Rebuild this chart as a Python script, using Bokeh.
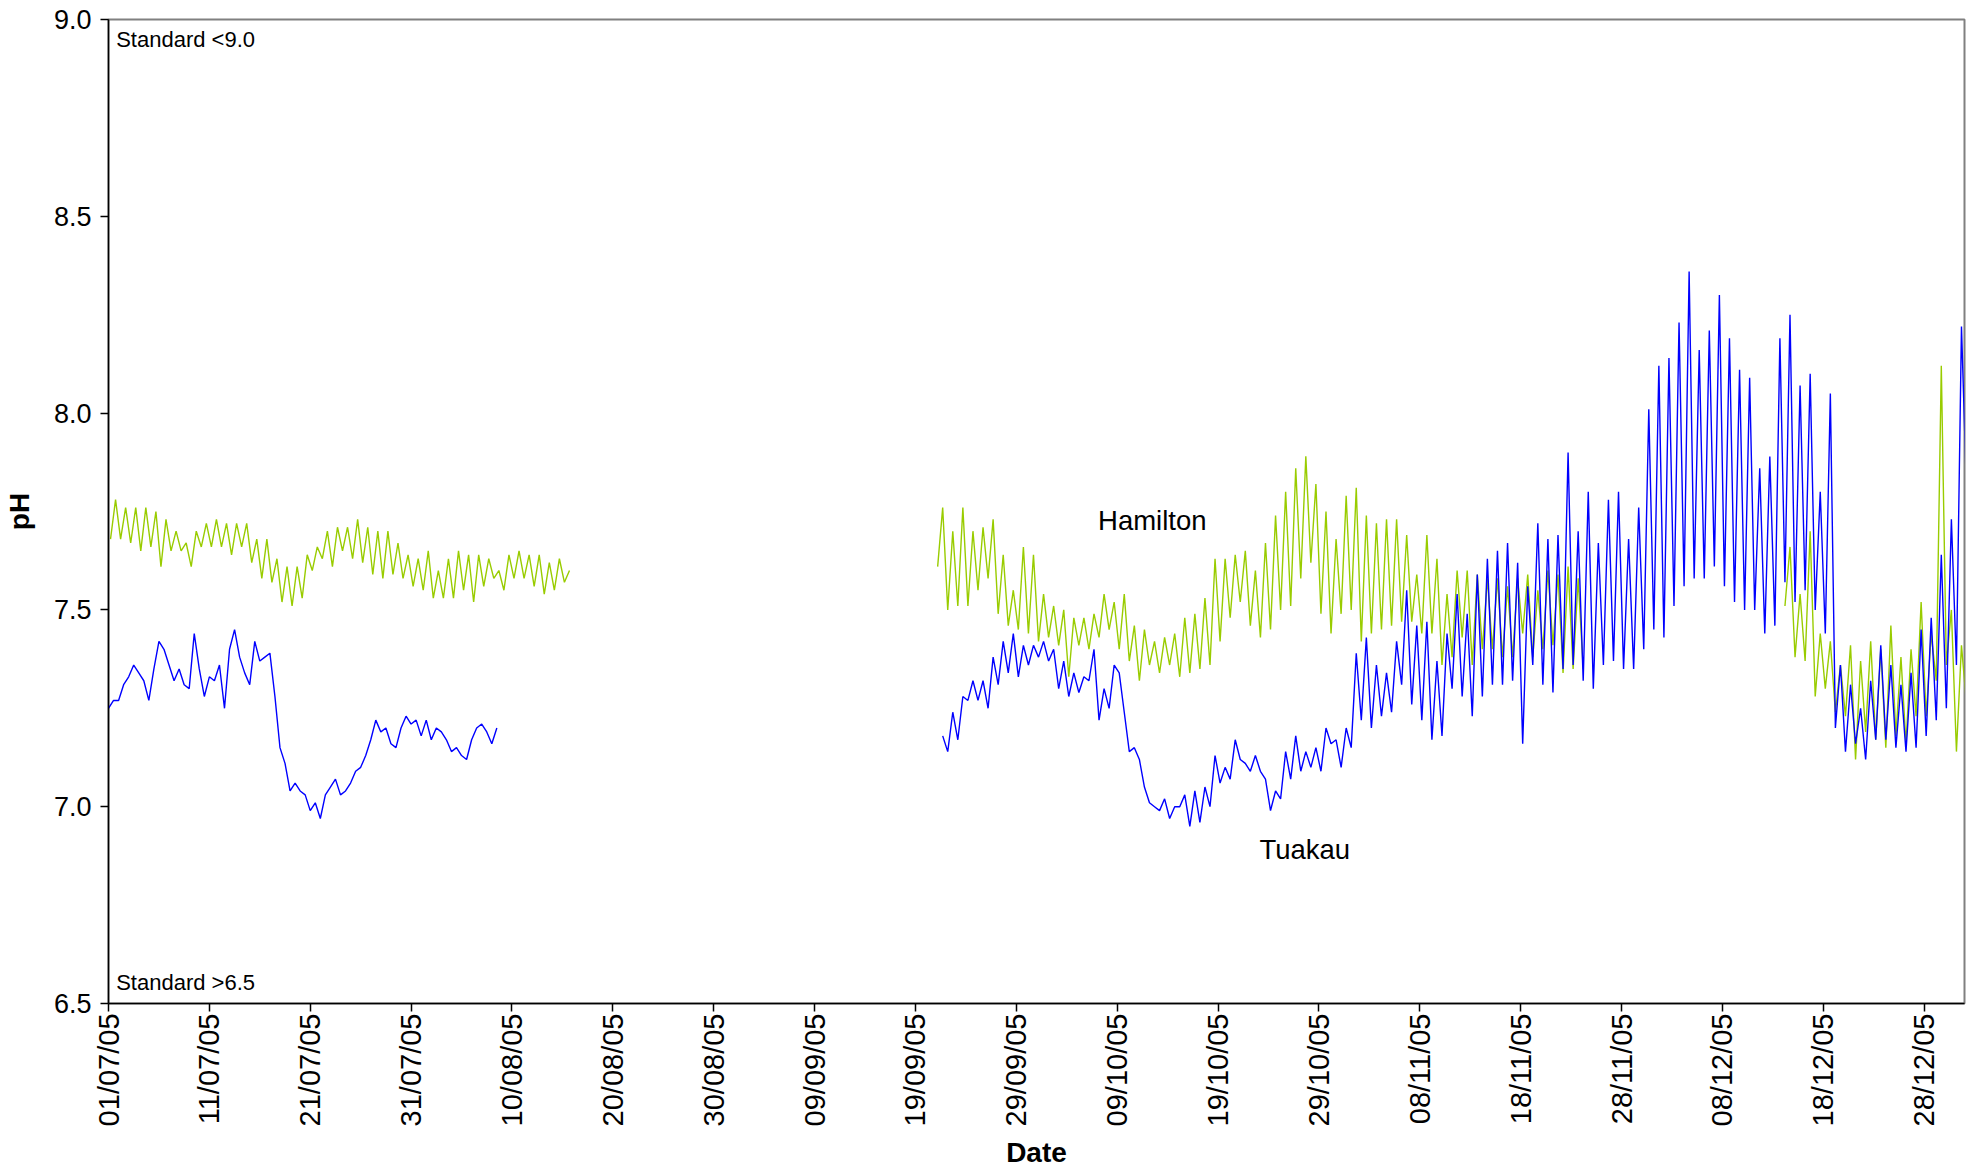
import math
from bokeh.plotting import figure
from bokeh.models import Range1d, FixedTicker, Label, PrintfTickFormatter
from bokeh.embed import file_html
from bokeh.resources import INLINE

# ---------------- data ----------------
# x axis: days since 01/07/05
tick_days = [0, 10, 20, 30, 40, 50, 60, 70, 80, 90, 100, 110, 120, 130, 140, 150, 160, 170, 180]
tick_labels = ["01/07/05", "11/07/05", "21/07/05", "31/07/05", "10/08/05", "20/08/05",
               "30/08/05", "09/09/05", "19/09/05", "29/09/05", "09/10/05", "19/10/05",
               "29/10/05", "08/11/05", "18/11/05", "28/11/05", "08/12/05", "18/12/05",
               "28/12/05"]
y_ticks = [6.5, 7.0, 7.5, 8.0, 8.5, 9.0]

STEP = 0.5  # half-day readings

# Hamilton (pH), segment 1, first reading at day 0.2
ham_a_start = 0.2
ham_a = [7.68, 7.78, 7.68, 7.76, 7.67, 7.76, 7.65, 7.76, 7.66, 7.75, 7.61, 7.73, 7.65, 7.70,
         7.65, 7.67, 7.61, 7.70, 7.66, 7.72, 7.66, 7.73, 7.66, 7.72, 7.64, 7.72, 7.66, 7.72,
         7.62, 7.68, 7.58, 7.68, 7.57, 7.63, 7.52, 7.61, 7.51, 7.61, 7.53, 7.64, 7.60, 7.66,
         7.63, 7.70, 7.61, 7.71, 7.65, 7.71, 7.63, 7.73, 7.62, 7.71, 7.59, 7.70, 7.58, 7.70,
         7.59, 7.67, 7.58, 7.64, 7.56, 7.63, 7.55, 7.65, 7.53, 7.60, 7.53, 7.63, 7.53, 7.65,
         7.55, 7.64, 7.52, 7.64, 7.56, 7.63, 7.58, 7.60, 7.55, 7.64, 7.58, 7.65, 7.58, 7.64,
         7.56, 7.64, 7.54, 7.62, 7.55, 7.63, 7.57, 7.60]

# Hamilton, segment 2
ham_b_start = 82.2
ham_b = [7.61, 7.76, 7.50, 7.70, 7.51, 7.76, 7.51, 7.70, 7.55, 7.71, 7.58, 7.73, 7.49, 7.64,
         7.46, 7.55, 7.45, 7.66, 7.44, 7.64, 7.42, 7.54, 7.43, 7.51, 7.41, 7.50, 7.33, 7.48,
         7.41, 7.48, 7.40, 7.49, 7.43, 7.54, 7.45, 7.52, 7.40, 7.54, 7.37, 7.46, 7.32, 7.45,
         7.36, 7.42, 7.34, 7.43, 7.36, 7.44, 7.33, 7.48, 7.34, 7.49, 7.35, 7.53, 7.36, 7.63,
         7.42, 7.63, 7.48, 7.64, 7.52, 7.65, 7.46, 7.60, 7.43, 7.67, 7.45, 7.74, 7.50, 7.80,
         7.51, 7.86, 7.58, 7.89, 7.62, 7.82, 7.49, 7.75, 7.44, 7.68, 7.49, 7.79, 7.50, 7.81,
         7.42, 7.74, 7.44, 7.72, 7.45, 7.73, 7.46, 7.73, 7.47, 7.69, 7.47, 7.59, 7.44, 7.69,
         7.44, 7.63, 7.36, 7.54, 7.38, 7.60, 7.43, 7.60, 7.36, 7.59, 7.40, 7.58, 7.40, 7.58,
         7.38, 7.56, 7.38, 7.58, 7.44, 7.59, 7.38, 7.55, 7.40, 7.60, 7.41, 7.59, 7.34, 7.61,
         7.35, 7.58, 7.35]

# Hamilton, segment 3
ham_c_start = 166.2
ham_c = [7.51, 7.66, 7.38, 7.54, 7.37, 7.70, 7.28, 7.44, 7.30, 7.42, 7.24, 7.36, 7.23, 7.41,
         7.12, 7.37, 7.19, 7.42, 7.17, 7.40, 7.15, 7.46, 7.18, 7.38, 7.16, 7.40, 7.23, 7.52,
         7.23, 7.44, 7.32, 8.12, 7.36, 7.50, 7.14, 7.41, 7.26]

# Tuakau (pH), segment 1
tua_a_start = 0.0
tua_a = [7.25, 7.27, 7.27, 7.31, 7.33, 7.36, 7.34, 7.32, 7.27, 7.35,
         7.42, 7.40, 7.36, 7.32, 7.35, 7.31, 7.30, 7.44, 7.35, 7.28,
         7.33, 7.32, 7.36, 7.25, 7.40, 7.45, 7.38, 7.34, 7.31, 7.42,
         7.37, 7.38, 7.39, 7.28, 7.15, 7.11, 7.04, 7.06, 7.04, 7.03,
         6.99, 7.01, 6.97, 7.03, 7.05, 7.07, 7.03, 7.04, 7.06, 7.09,
         7.10, 7.13, 7.17, 7.22, 7.19, 7.20, 7.16, 7.15, 7.20, 7.23,
         7.21, 7.22, 7.18, 7.22, 7.17, 7.20, 7.19, 7.17, 7.14, 7.15,
         7.13, 7.12, 7.17, 7.20, 7.21, 7.19, 7.16, 7.20]

# Tuakau, segment 2
tua_b_start = 82.7
tua_b = [7.18, 7.14, 7.24, 7.17, 7.28, 7.27, 7.32, 7.27, 7.32, 7.25,
         7.38, 7.31, 7.42, 7.34, 7.44, 7.33, 7.41, 7.36, 7.41, 7.38,
         7.42, 7.37, 7.40, 7.30, 7.37, 7.28, 7.34, 7.29, 7.33, 7.32,
         7.40, 7.22, 7.30, 7.25, 7.36, 7.34, 7.24, 7.14, 7.15, 7.12,
         7.05, 7.01, 7.00, 6.99, 7.02, 6.97, 7.00, 7.00, 7.03, 6.95,
         7.04, 6.96, 7.05, 7.00, 7.13, 7.06, 7.10, 7.07, 7.17, 7.12,
         7.11, 7.09, 7.13, 7.09, 7.07, 6.99, 7.04, 7.02, 7.14, 7.07,
         7.18, 7.09, 7.14, 7.10, 7.15, 7.09, 7.20, 7.16, 7.17, 7.10,
         7.20, 7.15, 7.39, 7.22, 7.43, 7.20, 7.36, 7.23, 7.34, 7.24,
         7.42, 7.31, 7.55, 7.26, 7.46, 7.22, 7.47, 7.17, 7.37, 7.18,
         7.44, 7.30, 7.54, 7.28, 7.49, 7.23, 7.59, 7.28, 7.63, 7.31,
         7.65, 7.31, 7.67, 7.32, 7.62, 7.16, 7.56, 7.36, 7.72, 7.31,
         7.68, 7.29, 7.69, 7.35, 7.90, 7.36, 7.70, 7.32, 7.80, 7.30,
         7.67, 7.36, 7.78, 7.37, 7.80, 7.35, 7.68, 7.35, 7.76, 7.40,
         8.01, 7.45, 8.12, 7.43, 8.14, 7.51, 8.23, 7.56, 8.36, 7.58,
         8.16, 7.58, 8.21, 7.61, 8.30, 7.56, 8.19, 7.52, 8.11, 7.50,
         8.09, 7.50, 7.86, 7.44, 7.89, 7.46, 8.19, 7.57, 8.25, 7.52,
         8.07, 7.55, 8.10, 7.50, 7.80, 7.44, 8.05, 7.20, 7.36, 7.14,
         7.31, 7.16, 7.25, 7.12, 7.32, 7.17, 7.41, 7.17, 7.36, 7.15,
         7.31, 7.14, 7.34, 7.15, 7.45, 7.18, 7.48, 7.22, 7.64, 7.25,
         7.73, 7.36, 8.22, 7.80]

HAM_COLOR = "#99CC00"
TUA_COLOR = "#0000FF"
FONT = "Liberation Sans"


def days(start, vals):
    return [start + STEP * i for i in range(len(vals))]


# ---------------- figure ----------------
p = figure(width=1970, height=1171, output_backend="svg", toolbar_location=None,
           x_range=Range1d(0, 184), y_range=Range1d(6.5, 9.0),
           min_border_left=108, min_border_right=6, min_border_top=19, min_border_bottom=168)
p.background_fill_color = "white"
p.border_fill_color = "white"
p.xgrid.visible = False
p.ygrid.visible = False
p.outline_line_color = "#808080"
p.outline_line_width = 2

for start, vals in [(ham_a_start, ham_a), (ham_b_start, ham_b), (ham_c_start, ham_c)]:
    p.line(days(start, vals), vals, line_color=HAM_COLOR, line_width=1.4)
for start, vals in [(tua_a_start, tua_a), (tua_b_start, tua_b)]:
    p.line(days(start, vals), vals, line_color=TUA_COLOR, line_width=1.4)

# axes
xa = p.xaxis[0]
xa.ticker = FixedTicker(ticks=tick_days)
xa.major_label_overrides = {d: lab for d, lab in zip(tick_days, tick_labels)}
xa.major_label_orientation = math.pi / 2
xa.axis_label = "Date"
ya = p.yaxis[0]
ya.ticker = FixedTicker(ticks=y_ticks)
ya.formatter = PrintfTickFormatter(format="%.1f")
ya.axis_label = "pH"

for ax in (xa, ya):
    ax.major_label_text_font = FONT
    ax.major_label_text_color = "black"
    ax.axis_label_text_font = FONT
    ax.axis_label_text_font_size = "28px"
    ax.axis_label_text_font_style = "bold"
    ax.axis_label_text_color = "black"
    ax.axis_line_color = "black"
    ax.axis_line_width = 1.5
    ax.major_tick_line_color = "black"
    ax.major_tick_line_width = 1.5
    ax.major_tick_out = 8
    ax.major_tick_in = 0
    ax.minor_tick_line_color = None
xa.major_label_text_font_size = "29px"
ya.major_label_text_font_size = "27px"
xa.major_label_standoff = 2
ya.major_label_standoff = 9
xa.axis_label_standoff = 8
ya.axis_label_standoff = 16

# annotations
p.add_layout(Label(x=0.76, y=8.949, text="Standard <9.0", text_font=FONT, text_font_size="22px",
                   text_baseline="middle", text_color="black"))
p.add_layout(Label(x=0.76, y=6.554, text="Standard >6.5", text_font=FONT, text_font_size="22px",
                   text_baseline="middle", text_color="black"))
p.add_layout(Label(x=98.1, y=7.726, text="Hamilton", text_font=FONT, text_font_size="27.5px",
                   text_baseline="middle", text_color="black"))
p.add_layout(Label(x=114.1, y=6.892, text="Tuakau", text_font=FONT, text_font_size="27.5px",
                   text_baseline="middle", text_color="black"))

open("out.html", "w").write(file_html(p, INLINE))
